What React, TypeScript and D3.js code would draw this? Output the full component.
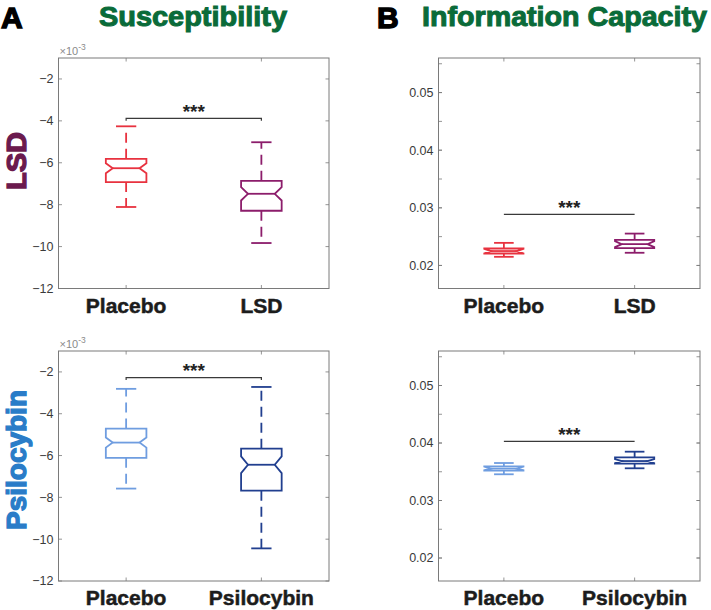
import React from "react";
import * as d3 from "d3";

// ---------- data ----------
const lsdCategories = ["Placebo", "LSD"];
const psiCategories = ["Placebo", "Psilocybin"];

// box stats: [whiskerLow, q1, notchLow, median, notchHigh, q3, whiskerHigh]
// susceptibility in units of 1e-3
const suscLsdPlacebo = [-8.11, -6.92, -6.5, -6.26, -6.02, -5.81, -4.26];
const suscLsd = [-9.83, -8.29, -7.8, -7.48, -7.16, -6.86, -5.02];
const suscPsiPlacebo = [-7.58, -6.11, -5.62, -5.38, -5.14, -4.71, -2.81];
const suscPsi = [-10.44, -7.68, -6.84, -6.44, -6.04, -5.67, -2.72];

const infoLsdPlacebo = [0.0215, 0.02207, 0.0221, 0.0225, 0.0229, 0.02294, 0.02392];
const infoLsd = [0.0222, 0.023, 0.02318, 0.0237, 0.02422, 0.02444, 0.02553];
const infoPsiPlacebo = [0.03456, 0.0352, 0.03525, 0.03555, 0.03588, 0.03594, 0.03652];
const infoPsi = [0.0356, 0.03641, 0.0365, 0.03686, 0.03722, 0.0375, 0.03849];

// significance bracket heights
const bracketSuscLsd = -3.88;
const bracketSuscPsi = -2.27;
const bracketInfoLsd = 0.02888;
const bracketInfoPsi = 0.04028;

const suscDomain = [-12, -1];
const suscTicks = [-12, -10, -8, -6, -4, -2];
const infoDomain = [0.016, 0.056];
const infoTicks = [0.02, 0.03, 0.04, 0.05];
const infoMinorTicks = [0.02, 0.025, 0.03, 0.035, 0.04, 0.045, 0.05, 0.055];

const colPlaceboLsd = "#e8323f";
const colLsd = "#8c1d6b";
const colPlaceboPsi = "#6f9de0";
const colPsi = "#213f8f";

const NARROW = "'Liberation Sans Narrow', 'Liberation Sans', Arial, sans-serif";
const SANS = "'Liberation Sans', Arial, Helvetica, sans-serif";

type PanelProps = {
  x0: number; x1: number; y0: number; y1: number;
  domain: number[]; ticks: number[]; minorTicks: number[];
  fmt: (v: number) => string;
  categories: string[];
  boxes: number[][];
  colors: string[];
  bracket: number;
  bracketEnds: boolean;
  exponent: boolean;
};

function Panel(p: PanelProps) {
  const x = d3.scaleLinear().domain([0.5, 2.5]).range([p.x0, p.x1]);
  const y = d3.scaleLinear().domain(p.domain).range([p.y1, p.y0]);
  const hw = (x(1.15) - x(0.85)) / 2;
  const k = 0.66;
  const axisCol = "#7a7a7a";
  const tickLen = 3.5;
  return (
    <g>
      <rect x={p.x0} y={p.y0} width={p.x1 - p.x0} height={p.y1 - p.y0} fill="white" stroke={axisCol} strokeWidth={1} />
      {p.minorTicks.map((t, i) => (
        <g key={"mt" + i}>
          <line x1={p.x0} x2={p.x0 + tickLen} y1={y(t)} y2={y(t)} stroke={axisCol} strokeWidth={0.8} />
          <line x1={p.x1} x2={p.x1 - tickLen} y1={y(t)} y2={y(t)} stroke={axisCol} strokeWidth={0.8} />
        </g>
      ))}
      {p.ticks.map((t, i) => (
        <g key={"t" + i}>
          <line x1={p.x0} x2={p.x0 + tickLen} y1={y(t)} y2={y(t)} stroke={axisCol} strokeWidth={0.8} />
          <line x1={p.x1} x2={p.x1 - tickLen} y1={y(t)} y2={y(t)} stroke={axisCol} strokeWidth={0.8} />
          <text x={p.x0 - 5} y={y(t)} dy="0.35em" textAnchor="end" fontFamily={SANS} fontSize={12.5} fill="#3a3a3a">
            {p.fmt(t)}
          </text>
        </g>
      ))}
      {p.categories.map((c, i) => (
        <g key={"c" + i}>
          <line x1={x(i + 1)} x2={x(i + 1)} y1={p.y1} y2={p.y1 - tickLen} stroke={axisCol} strokeWidth={0.8} />
          <line x1={x(i + 1)} x2={x(i + 1)} y1={p.y0} y2={p.y0 + tickLen} stroke={axisCol} strokeWidth={0.8} />
          <text x={x(i + 1)} y={p.y1 + 24} textAnchor="middle" fontFamily={NARROW} fontWeight="bold" fontSize={21}
            fill="#1c1c1c" stroke="#1c1c1c" strokeWidth={0.5}>
            {c}
          </text>
        </g>
      ))}
      {p.exponent && (
        <text x={p.x0 + 1} y={p.y0 - 3} fontFamily={SANS} fontSize={11} fill="#8a8a8a">
          ×10<tspan dy={-5} fontSize={8.5}>-3</tspan>
        </text>
      )}
      {p.boxes.map((b, i) => {
        const cx = x(i + 1);
        const [wl, q1, nl, md, nh, q3, wh] = b.map((v) => y(v));
        const col = p.colors[i];
        const path = d3.path();
        path.moveTo(cx - hw, q3);
        path.lineTo(cx + hw, q3);
        path.lineTo(cx + hw, nh);
        path.lineTo(cx + hw * k, md);
        path.lineTo(cx + hw, nl);
        path.lineTo(cx + hw, q1);
        path.lineTo(cx - hw, q1);
        path.lineTo(cx - hw, nl);
        path.lineTo(cx - hw * k, md);
        path.lineTo(cx - hw, nh);
        path.closePath();
        return (
          <g key={"b" + i} stroke={col} fill="none" strokeWidth={1.8}>
            <line x1={cx} x2={cx} y1={q3} y2={wh} strokeDasharray="10,6" />
            <line x1={cx} x2={cx} y1={q1} y2={wl} strokeDasharray="10,6" />
            <line x1={cx - hw / 2} x2={cx + hw / 2} y1={wh} y2={wh} />
            <line x1={cx - hw / 2} x2={cx + hw / 2} y1={wl} y2={wl} />
            <path d={path.toString()} strokeLinejoin="miter" />
            <line x1={cx - hw * k} x2={cx + hw * k} y1={md} y2={md} />
          </g>
        );
      })}
      <path
        d={p.bracketEnds
          ? `M${x(1)},${y(p.bracket) + 2.5}V${y(p.bracket)}H${x(2)}V${y(p.bracket) + 2.5}`
          : `M${x(1)},${y(p.bracket)}H${x(2)}`}
        stroke="#3a3a3a" strokeWidth={1.2} fill="none" />
      <text x={(x(1) + x(2)) / 2} y={y(p.bracket) - 0.5} textAnchor="middle" fontFamily={SANS} fontWeight="bold"
        fontSize={19} fill="#222">
        ***
      </text>
    </g>
  );
}

export default function App() {
  const fmtSusc = (v: number) => (v < 0 ? "\u2212" + Math.abs(v) : String(v));
  const fmtInfo = d3.format(".2f");
  const aX0 = 58.5, aX1 = 329, bX0 = 438.5, bX1 = 700;
  const r1y0 = 58, r1y1 = 288.5, r2y0 = 351, r2y1 = 581;
  return (
    <svg width={711} height={610} style={{ position: "absolute", left: 0, top: 0, background: "white" }}>
      <rect x={0} y={0} width={711} height={610} fill="white" />
      <text x={1} y={28} fontFamily={SANS} fontWeight="bold" fontSize={30} fill="#000" stroke="#000" strokeWidth={1.4}>A</text>
      <text x={377} y={28} fontFamily={SANS} fontWeight="bold" fontSize={30} fill="#000" stroke="#000" strokeWidth={1.4}>B</text>
      <text x={99} y={26} fontFamily={NARROW} fontWeight="bold" fontSize={27} fill="#0a6b39" stroke="#0a6b39"
        strokeWidth={1} textLength={188} lengthAdjust="spacingAndGlyphs">Susceptibility</text>
      <text x={422} y={26} fontFamily={NARROW} fontWeight="bold" fontSize={27} fill="#0a6b39" stroke="#0a6b39"
        strokeWidth={1} textLength={285} lengthAdjust="spacingAndGlyphs">Information Capacity</text>
      <text transform="translate(25.5,190) rotate(-90)" fontFamily={NARROW} fontWeight="bold" fontSize={27}
        fill="#6b1a4e" stroke="#6b1a4e" strokeWidth={1.3} textLength={58} lengthAdjust="spacingAndGlyphs">LSD</text>
      <text transform="translate(25.5,530) rotate(-90)" fontFamily={NARROW} fontWeight="bold" fontSize={27}
        fill="#2a7cc8" stroke="#2a7cc8" strokeWidth={1.3} textLength={140} lengthAdjust="spacingAndGlyphs">Psilocybin</text>

      <Panel x0={aX0} x1={aX1} y0={r1y0} y1={r1y1} domain={suscDomain} ticks={suscTicks} minorTicks={[]}
        fmt={fmtSusc} categories={lsdCategories} boxes={[suscLsdPlacebo, suscLsd]} colors={[colPlaceboLsd, colLsd]}
        bracket={bracketSuscLsd} bracketEnds={true} exponent={true} />
      <Panel x0={bX0} x1={bX1} y0={r1y0} y1={r1y1} domain={infoDomain} ticks={infoTicks} minorTicks={infoMinorTicks}
        fmt={fmtInfo} categories={lsdCategories} boxes={[infoLsdPlacebo, infoLsd]} colors={[colPlaceboLsd, colLsd]}
        bracket={bracketInfoLsd} bracketEnds={false} exponent={false} />
      <Panel x0={aX0} x1={aX1} y0={r2y0} y1={r2y1} domain={suscDomain} ticks={suscTicks} minorTicks={[]}
        fmt={fmtSusc} categories={psiCategories} boxes={[suscPsiPlacebo, suscPsi]} colors={[colPlaceboPsi, colPsi]}
        bracket={bracketSuscPsi} bracketEnds={true} exponent={true} />
      <Panel x0={bX0} x1={bX1} y0={r2y0} y1={r2y1} domain={infoDomain} ticks={infoTicks} minorTicks={infoMinorTicks}
        fmt={fmtInfo} categories={psiCategories} boxes={[infoPsiPlacebo, infoPsi]} colors={[colPlaceboPsi, colPsi]}
        bracket={bracketInfoPsi} bracketEnds={false} exponent={false} />
    </svg>
  );
}
